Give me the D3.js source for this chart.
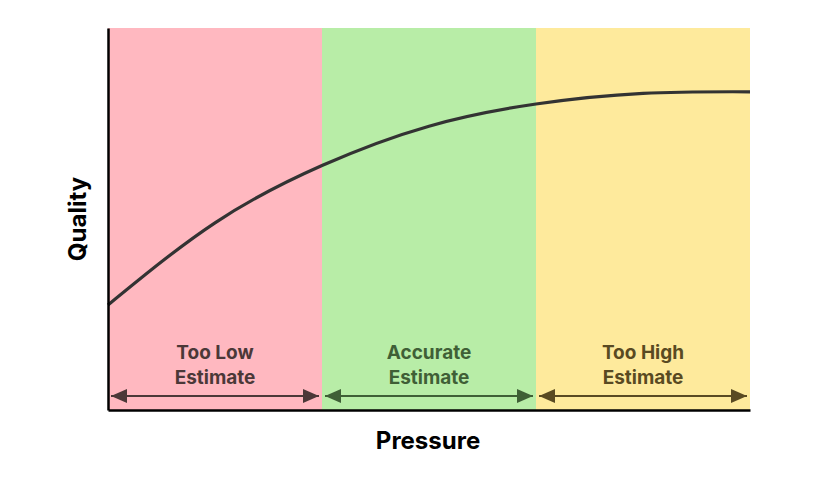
<!DOCTYPE html>
<html>
<head>
<meta charset="utf-8">
<script src="https://cdn.jsdelivr.net/npm/d3@7"></script>
<style>
  body { margin: 0; background: #fff; }
  text { font-family: "Inter", "Open Sans", sans-serif; font-weight: 700; }
</style>
</head>
<body>
<svg id="chart" width="832" height="482"></svg>
<script>
// bands along the pressure axis
var bandNames = ["Too Low", "Accurate", "Too High"];
var bandStarts = [0, 10, 20];
var bandEnds = [10, 20, 30];
var bandFill = ["#ffb8c0", "#b8eda7", "#feea9c"];
var bandInk = ["#4b3838", "#3f5f36", "#594a22"];

// quality curve
var pressure = [0, 5, 10, 15, 20, 25, 30];
var quality = [27.5, 49, 64, 74.3, 80.1, 82.9, 83.3];

var margin = {top: 28, right: 82, bottom: 72, left: 108};
var width = 832 - margin.left - margin.right;
var height = 482 - margin.top - margin.bottom;

var svg = d3.select('#chart');
var g = svg.append('g').attr('transform', 'translate(' + margin.left + ',' + margin.top + ')');

var x = d3.scaleLinear().domain([0, 30]).range([0, width]);
var y = d3.scaleLinear().domain([0, 100]).range([height, 0]);

// arrowheads, one per band colour
var defs = svg.append('defs');
bandInk.forEach(function(c, i) {
  defs.append('marker')
    .attr('id', 'arr' + i)
    .attr('viewBox', '0 0 16 14')
    .attr('refX', 16).attr('refY', 7)
    .attr('markerWidth', 8).attr('markerHeight', 7)
    .attr('markerUnits', 'strokeWidth')
    .attr('orient', 'auto-start-reverse')
    .append('path').attr('d', 'M0,0L16,7L0,14Z').attr('fill', c);
});

g.selectAll('rect.band').data(bandNames).enter().append('rect')
  .attr('class', 'band')
  .attr('x', function(d, i) { return x(bandStarts[i]); })
  .attr('y', 0)
  .attr('width', function(d, i) { return x(bandEnds[i]) - x(bandStarts[i]); })
  .attr('height', height)
  .attr('fill', function(d, i) { return bandFill[i]; });

// band labels
var lbl = g.selectAll('text.lbl').data(bandNames).enter().append('text')
  .attr('class', 'lbl')
  .attr('text-anchor', 'middle')
  .attr('font-size', 19)
  .attr('fill', function(d, i) { return bandInk[i]; });
lbl.append('tspan')
  .attr('x', function(d, i) { return x((bandStarts[i] + bandEnds[i]) / 2); })
  .attr('y', height - 51)
  .text(function(d) { return d; });
lbl.append('tspan')
  .attr('x', function(d, i) { return x((bandStarts[i] + bandEnds[i]) / 2); })
  .attr('y', height - 26)
  .text('Estimate');

// double arrows
g.selectAll('line.arr').data(bandNames).enter().append('line')
  .attr('class', 'arr')
  .attr('x1', function(d, i) { return x(bandStarts[i]) + 3; })
  .attr('x2', function(d, i) { return x(bandEnds[i]) - 3; })
  .attr('y1', height - 14).attr('y2', height - 14)
  .attr('stroke', function(d, i) { return bandInk[i]; })
  .attr('stroke-width', 2)
  .attr('marker-start', function(d, i) { return 'url(#arr' + i + ')'; })
  .attr('marker-end', function(d, i) { return 'url(#arr' + i + ')'; });

// curve
var line = d3.line()
  .x(function(d, i) { return x(pressure[i]); })
  .y(function(d) { return y(d); })
  .curve(d3.curveNatural);
g.append('path')
  .datum(quality)
  .attr('d', line)
  .attr('fill', 'none')
  .attr('stroke', '#333')
  .attr('stroke-width', 3.2);

// axes, no ticks
g.append('g').attr('transform', 'translate(0,' + height + ')')
  .call(d3.axisBottom(x).ticks(0).tickSize(0))
  .call(function(a) { a.select('.domain').attr('stroke', '#000').attr('stroke-width', 2.5); });
g.append('g')
  .call(d3.axisLeft(y).ticks(0).tickSize(0))
  .call(function(a) { a.select('.domain').attr('stroke', '#000').attr('stroke-width', 2.5); });

g.append('text')
  .attr('x', width / 2 - 1)
  .attr('y', height + 39)
  .attr('text-anchor', 'middle')
  .attr('font-size', 24)
  .attr('fill', '#000')
  .text('Pressure');

g.append('text')
  .attr('transform', 'translate(-22,' + (height / 2) + ') rotate(-90)')
  .attr('text-anchor', 'middle')
  .attr('font-size', 24)
  .attr('fill', '#000')
  .text('Quality');
</script>
</body>
</html>
